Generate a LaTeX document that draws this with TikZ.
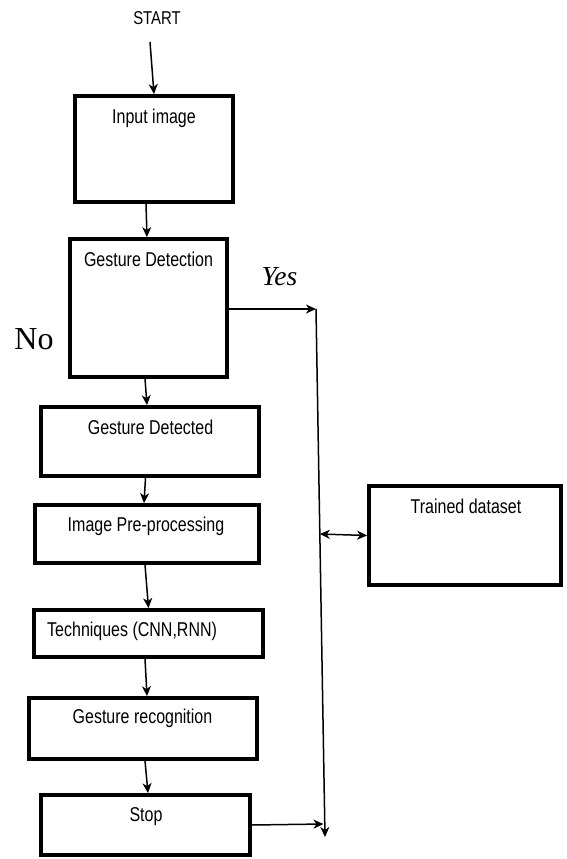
\documentclass[tikz,border=0pt]{standalone}
\usepackage{fontspec}
\usetikzlibrary{arrows.meta}
\newfontfamily\narrowf{Liberation Sans}[FakeStretch=0.8]
\newfontfamily\seriff{Liberation Serif}
\begin{document}
\begin{tikzpicture}[x=1pt,y=-1pt,
  box/.style={draw, line width=3.8pt, rectangle, inner sep=0pt},
  lbl/.style={anchor=base, inner sep=0pt, font=\narrowf\fontsize{20}{24}\selectfont},
  tip/.tip={Stealth[length=10pt,width=9pt,inset=3pt]},
  conn/.style={line width=1.5pt, -tip},
  line/.style={line width=1.5pt}]
\useasboundingbox (0,0) rectangle (566,859);
% boxes
\node[box, minimum width=158pt, minimum height=106pt] (b1) at (154,149) {};
\node[box, minimum width=157pt, minimum height=138pt] (b2) at (148.5,308) {};
\node[box, minimum width=218pt, minimum height=69pt] (b3) at (150,441.5) {};
\node[box, minimum width=224pt, minimum height=58pt] (b4) at (147,534) {};
\node[box, minimum width=229pt, minimum height=47pt] (b5) at (148.5,633.5) {};
\node[box, minimum width=228pt, minimum height=61pt] (b6) at (143,728.5) {};
\node[box, minimum width=209pt, minimum height=60pt] (b7) at (145.5,825) {};
\node[box, minimum width=192pt, minimum height=99pt] (b8) at (465,535.5) {};
% texts
\node[lbl, font=\narrowf\fontsize{18.6}{22}\selectfont] (tstart) at (157,25) {START};
\node[lbl] (t1) at (154,123) {Input image};
\node[lbl] (t2) at (148.5,266.7) {Gesture Detection};
\node[lbl] (t3) at (150.5,434) {Gesture Detected};
\node[lbl] (t4) at (146,531.7) {Image Pre-processing};
\node[lbl, anchor=base west] (t5) at (47,636.7) {Techniques (CNN,RNN)};
\node[lbl] (t6) at (142.5,723) {Gesture recognition};
\node[lbl] (t7) at (146,821.7) {Stop};
\node[lbl] (t8) at (466,513) {Trained dataset};
\node[anchor=base, inner sep=0pt, font=\seriff\itshape\fontsize{27.5}{30}\selectfont] (yes) at (279.5,285.7) {Yes};
\node[anchor=base, inner sep=0pt, font=\seriff\fontsize{32}{36}\selectfont] (no) at (34,349) {No};
% coordinates
\coordinate (s0) at (150,42);
\coordinate (v1) at (316,309);
\coordinate (v2) at (325,837);
\coordinate (vm) at (319.8,534);
\coordinate (vs) at (323.5,824);
% connectors
\draw[conn] (s0) -- (b1.north);
\draw[conn] ([xshift=-8pt]b1.south) -- ([xshift=-1.5pt]b2.north);
\draw[conn] ([xshift=-3.5pt]b2.south) -- ([xshift=-3pt]b3.north);
\draw[conn] ([xshift=-4.5pt]b3.south) -- ([xshift=-3pt]b4.north);
\draw[conn] ([xshift=-2pt]b4.south) -- (b5.north);
\draw[conn] ([xshift=-3.5pt]b5.south) -- ([xshift=4pt]b6.north);
\draw[conn] ([xshift=2pt]b6.south) -- ([xshift=2.5pt]b7.north);
\draw[conn] ([yshift=-1pt]b2.east) -- (v1);
\draw[conn] (v1) -- (v2);
\draw[conn, tip-tip] (vm) -- (b8.west);
\draw[conn] (b7.east) -- (vs);
\end{tikzpicture}
\end{document}
